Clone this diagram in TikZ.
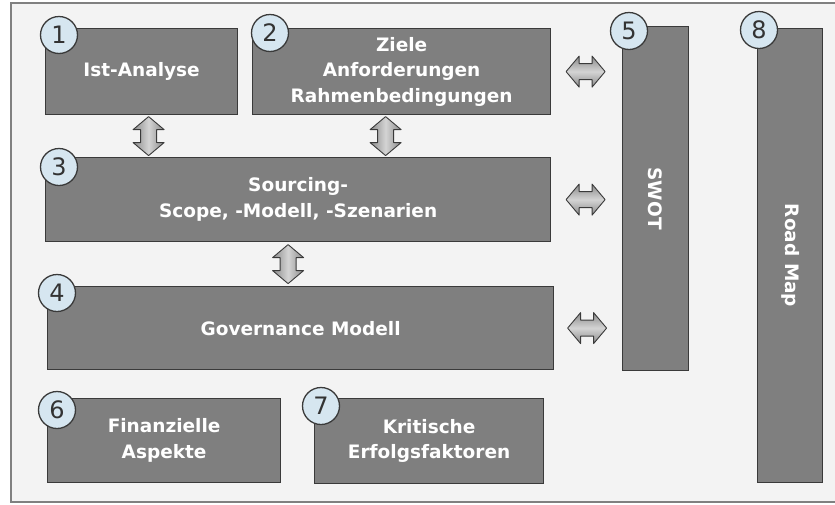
\documentclass[tikz,border=0pt]{standalone}
\usepackage{fontspec}
\setmainfont{DejaVu Sans}

\definecolor{bgcol}{HTML}{F3F3F3}
\definecolor{framecol}{HTML}{808080}
\definecolor{boxgray}{HTML}{7F7F7F}
\definecolor{boxline}{HTML}{3A3A3A}
\definecolor{numfill}{HTML}{D6E6F0}
\definecolor{arrowdark}{HTML}{8A8A8A}
\definecolor{arrowlight}{HTML}{D4D4D4}

% double block arrow, centred on #1, turned by #2, shaded by #3
\newcommand{\dblarrow}[3]{%
  \begin{scope}[shift={(#1)},rotate=#2]
    \draw[draw=boxline,line width=0.9pt,line join=round,#3]
      (-19.5,0) -- (-6.5,-15.5) -- (-6.5,-8) -- (6.5,-8) -- (6.5,-15.5)
      -- (19.5,0) -- (6.5,15.5) -- (6.5,8) -- (-6.5,8) -- (-6.5,15.5) -- cycle;
  \end{scope}}

\begin{document}
\begin{tikzpicture}[x=1pt,y=-1pt,
    box/.style={draw=boxline,fill=boxgray,line width=1.2pt,anchor=north west,
      text=white,align=center,inner sep=0pt,
      font=\fontsize{18.5}{25.5}\selectfont\bfseries},
    num/.style={circle,draw=boxline,fill=numfill,line width=1.3pt,minimum size=37pt,
      inner sep=0pt,text=black!80,font=\fontsize{24}{24}\selectfont},
    vshade/.style={left color=arrowdark,right color=arrowdark,middle color=arrowlight},
    hshade/.style={top color=arrowdark,bottom color=arrowdark,middle color=arrowlight}]

    \useasboundingbox (0,0) rectangle (835,504);

    % Background and frame
    \fill[bgcol] (11,3) rectangle (835,502);
    \draw[framecol,line width=2pt] (835,3) -- (11,3) -- (11,502) -- (835,502);

    % The blocks
    \node[box,minimum width=192pt,minimum height=86pt] (ist) at (45,28) {Ist-Analyse};
    \node[box,minimum width=298pt,minimum height=86pt] (ziele) at (252,28)
      {Ziele\\Anforderungen\\Rahmenbedingungen};
    \node[box,minimum width=505pt,minimum height=84pt] (scope) at (45,157)
      {Sourcing-\\Scope, -Modell, -Szenarien};
    \node[box,minimum width=506pt,minimum height=83pt] (gov) at (47,286) {Governance Modell};
    \node[box,minimum width=233pt,minimum height=84pt] (fin) at (47,398)
      {Finanzielle\\Aspekte};
    \node[box,minimum width=229pt,minimum height=85pt] (krit) at (314,398)
      {Kritische\\Erfolgsfaktoren};
    \node[box,minimum width=66pt,minimum height=344pt] (swot) at (622,26) {};
    \node[box,minimum width=65pt,minimum height=454pt] (road) at (757,28) {};
    \node[text=white,rotate=-90,font=\fontsize{18.5}{25.5}\selectfont\bfseries] (swottxt)
      at (swot.center) {SWOT};
    \node[text=white,rotate=-90,font=\fontsize{18.5}{25.5}\selectfont\bfseries] (roadtxt)
      at (road.center) {Road Map};

    % Vertical double arrows
    \foreach \a/\b/\dx in {ist/scope/7, ziele/scope/-16, scope/gov/-10} {
      \path (\a.south) -- (\a.south |- \b.north) coordinate[midway,xshift=\dx pt] (\a-\b);
      \dblarrow{\a-\b}{90}{vshade}
    }

    % Horizontal double arrows to SWOT
    \foreach \a in {ziele,scope,gov} {
      \path (\a.east) -- (\a.east -| swot.west) coordinate[midway,xshift=-1pt] (\a-swot);
      \dblarrow{\a-swot}{0}{hshade}
    }

    % Numbers
    \foreach \n/\x/\y in {1/59/35, 2/270/33, 3/59/167, 4/57/293,
                          5/629/31, 6/57/410, 7/321/406, 8/759/30} {
      \node[num] (n\n) at (\x,\y) {\n};
    }

\end{tikzpicture}
\end{document}
